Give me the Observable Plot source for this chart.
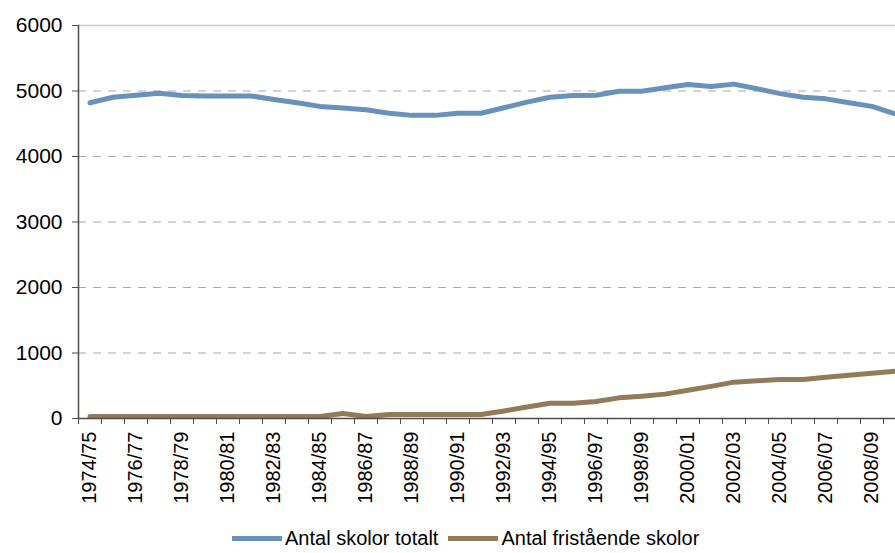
<!DOCTYPE html>
<html>
<head>
<meta charset="utf-8">
<script src="https://cdn.jsdelivr.net/npm/d3@7"></script>
<script src="https://cdn.jsdelivr.net/npm/@observablehq/plot@0.6"></script>
<style>
  html, body { margin: 0; padding: 0; background: #fff; }
  body { width: 895px; height: 553px; overflow: hidden; font-family: "Liberation Sans", Arial, sans-serif; }
  #legend { display: flex; align-items: center; padding-left: 232px; margin-top: 6px; height: 24px; font-size: 20px; color: #000; }
  #legend .sw { width: 50px; height: 5px; margin-right: 3px; }
  #legend .lab { margin-right: 10px; white-space: nowrap; }
</style>
</head>
<body>
<div id="chart"></div>
<div id="legend"></div>
<script>
const years = ["1974/75","1975/76","1976/77","1977/78","1978/79","1979/80","1980/81","1981/82","1982/83","1983/84",
  "1984/85","1985/86","1986/87","1987/88","1988/89","1989/90","1990/91","1991/92","1992/93","1993/94",
  "1994/95","1995/96","1996/97","1997/98","1998/99","1999/00","2000/01","2001/02","2002/03","2003/04",
  "2004/05","2005/06","2006/07","2007/08","2008/09","2009/10"];
const totalt = [4820,4905,4935,4965,4930,4925,4925,4925,4870,4820,
  4765,4740,4715,4660,4628,4628,4660,4660,4745,4830,
  4905,4932,4935,4997,4997,5050,5100,5069,5105,5035,
  4960,4905,4880,4820,4765,4652];
const fristaende = [30,30,30,30,30,30,30,30,30,30,
  30,75,30,60,60,60,60,60,115,175,
  232,234,260,315,340,372,430,490,555,575,
  595,595,630,660,690,720];
const yTicks = [0,1000,2000,3000,4000,5000,6000];
const seriesNames = ["Antal skolor totalt", "Antal fristående skolor"];
const seriesColors = ["#6891BC", "#937B5A"];

const table = years.map((y, i) => ({i, year: y, totalt: totalt[i], frist: fristaende[i]}));
const labelIdx = d3.range(0, years.length, 2);
const boundaries = d3.range(years.length + 1).map(k => k - 0.5);

const chart = Plot.plot({
  width: 895,
  height: 520,
  marginLeft: 78,
  marginRight: -11,
  marginTop: 25,
  marginBottom: 102,
  style: {fontFamily: "'Liberation Sans', Arial, sans-serif", fontSize: "20px", color: "#000", background: "#fff", overflow: "hidden"},
  x: {type: "linear", domain: [-0.5, years.length - 0.5]},
  y: {domain: [0, 6000]},
  marks: [
    Plot.ruleY(yTicks.filter(v => v > 0 && v < 6000), {stroke: "#a8a8a8", strokeWidth: 1, strokeDasharray: "8,7"}),
    Plot.ruleY([6000], {stroke: "#cfcfcf", strokeWidth: 1.5}),
    Plot.line(table, {x: "i", y: "frist", stroke: seriesColors[1], strokeWidth: 5, strokeLinejoin: "round", strokeLinecap: "round"}),
    Plot.line(table, {x: "i", y: "totalt", stroke: seriesColors[0], strokeWidth: 5, strokeLinejoin: "round", strokeLinecap: "round"}),
    Plot.frame({anchor: "left", stroke: "#4d4d4d", strokeWidth: 1.5}),
    Plot.frame({anchor: "bottom", stroke: "#4d4d4d", strokeWidth: 1.5}),
    Plot.axisY(yTicks, {tickSize: 6, tickPadding: 10, fontSize: 21, stroke: "#4d4d4d", label: null, tickFormat: d => String(d)}),
    Plot.axisX(boundaries, {tickSize: 6, stroke: "#4d4d4d", tickFormat: () => "", label: null}),
    Plot.axisX(labelIdx, {tickSize: 0, tickPadding: 13, tickRotate: -90, fontSize: 20, tickFormat: i => years[i], label: null})
  ]
});
document.getElementById("chart").append(chart);

const legend = document.getElementById("legend");
seriesNames.forEach((name, k) => {
  const sw = document.createElement("span");
  sw.className = "sw";
  sw.style.background = seriesColors[k];
  const lab = document.createElement("span");
  lab.className = "lab";
  lab.textContent = name;
  legend.append(sw, lab);
});
</script>
</body>
</html>
